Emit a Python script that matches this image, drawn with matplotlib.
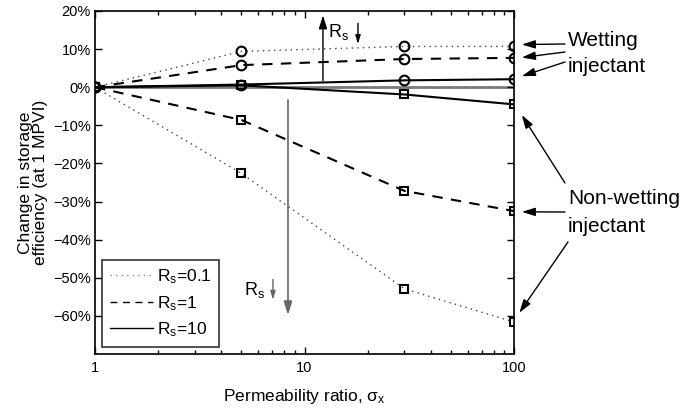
import matplotlib
matplotlib.use("Agg")
import matplotlib.pyplot as plt
from matplotlib.ticker import FixedLocator, FixedFormatter, LogLocator, NullFormatter

plt.rcParams['font.family'] = ['Liberation Sans', 'DejaVu Sans']
plt.rcParams['mathtext.fontset'] = 'custom'
plt.rcParams['mathtext.rm'] = 'Liberation Sans'
plt.rcParams['mathtext.it'] = 'Liberation Sans'

# ---- data ----
perm_ratio = [1, 5, 30, 100]
wet_rs01 = [0, 9.4, 10.7, 10.7]
wet_rs1 = [0, 5.8, 7.4, 7.7]
wet_rs10 = [0, 0.7, 1.8, 2.1]
nonwet_rs01 = [0, -22.6, -52.9, -61.6]
nonwet_rs1 = [0, -8.6, -27.2, -32.5]
nonwet_rs10 = [0, 0.5, -1.9, -4.5]
legend_labels = [r'$\mathregular{R_s}$=0.1', r'$\mathregular{R_s}$=1', r'$\mathregular{R_s}$=10']
ytick_vals = [-60, -50, -40, -30, -20, -10, 0, 10, 20]
ytick_labels = ['\u221260%', '\u221250%', '\u221240%', '\u221230%', '\u221220%', '\u221210%', '0%', '10%', '20%']
xtick_vals = [1, 10, 100]
xtick_labels = ['1', '10', '100']

W, H = 688, 408
fig = plt.figure(figsize=(W / 100, H / 100), dpi=100)
ax = fig.add_axes([95 / W, 1 - 354 / H, (514 - 95) / W, (354 - 11) / H])

def fp(x, y):
    return (x / W, 1 - y / H)

dot = (0, (1, 3))
dash = (0, (5, 4))

# zero reference line
ax.plot([1, 100], [0, 0], color='#7a7a7a', lw=2.0, zorder=1)

styles = [(dot, 1.0, '#444444'), (dash, 1.5, 'black'), ('-', 1.5, 'black')]
wet = [wet_rs01, wet_rs1, wet_rs10]
nonwet = [nonwet_rs01, nonwet_rs1, nonwet_rs10]
for (ls, lw, c), yw, yn in zip(styles, wet, nonwet):
    ax.plot(perm_ratio, yw, linestyle=ls, lw=lw, color=c, marker='o', ms=7,
            mfc='none', mec='black', mew=1.5, zorder=3)
    ax.plot(perm_ratio, yn, linestyle=ls, lw=lw, color=c, marker='s', ms=6,
            mfc='none', mec='black', mew=1.5, zorder=3)

ax.set_xscale('log')
ax.set_xlim(1, 100)
ax.set_ylim(-70, 20)
ax.xaxis.set_major_locator(FixedLocator(xtick_vals))
ax.xaxis.set_major_formatter(FixedFormatter(xtick_labels))
ax.xaxis.set_minor_locator(LogLocator(base=10, subs=range(2, 10)))
ax.xaxis.set_minor_formatter(NullFormatter())
ax.yaxis.set_major_locator(FixedLocator(ytick_vals))
ax.yaxis.set_major_formatter(FixedFormatter(ytick_labels))
ax.tick_params(which='both', direction='in', top=True, right=True, labelsize=10.5)
ax.tick_params(which='major', length=5, width=1)
ax.tick_params(which='minor', length=3, width=1)
ax.tick_params(axis='x', pad=5)
ax.tick_params(axis='y', pad=3)
for s in ax.spines.values():
    s.set_linewidth(1.2)

ax.set_xlabel(r'Permeability ratio, $\mathregular{\sigma_x}$', fontsize=12.5, labelpad=9)
ax.set_ylabel('Change in storage\nefficiency (at 1 MPVI)', fontsize=12.5, labelpad=4,
              linespacing=0.95)

# legend
leg_handles = []
for (ls, lw, c) in styles:
    l, = ax.plot([], [], linestyle=ls, lw=1.0,
                 color='#888888' if ls == dot else 'black')
    leg_handles.append(l)
leg = ax.legend(leg_handles, legend_labels, loc='lower left', fontsize=12.5,
                frameon=True, fancybox=False, edgecolor='black', handlelength=2.5,
                borderaxespad=0.4, labelspacing=0.45, handletextpad=0.2,
                borderpad=0.45, bbox_to_anchor=(0.0, 0.0))
leg.get_frame().set_linewidth(1.2)

# in-plot Rs arrows
ax.annotate('', xy=(12.25, 19.6), xytext=(12.25, 1.0),
            arrowprops=dict(arrowstyle='-|>,head_length=0.8,head_width=0.25', color='black', lw=1))
ax.text(13.0, 14.5, r'$\mathregular{R_s}$', fontsize=13, ha='left', va='center')
ax.annotate('', xy=(18.0, 10.6), xytext=(18.0, 17.5),
            arrowprops=dict(arrowstyle='-|>,head_length=0.5,head_width=0.15', color='black', lw=1))

ax.annotate('', xy=(8.34, -60.5), xytext=(8.34, -2.6),
            arrowprops=dict(arrowstyle='-|>,head_length=0.8,head_width=0.25', color='#666666', lw=1.2))
ax.text(5.15, -53.3, r'$\mathregular{R_s}$', fontsize=13, ha='left', va='center')
ax.annotate('', xy=(7.07, -56.5), xytext=(7.07, -49.7),
            arrowprops=dict(arrowstyle='-|>,head_length=0.5,head_width=0.15', color='#666666', lw=1))

# right side annotations
fig.text(*fp(568, 40), 'Wetting', fontsize=15, ha='left', va='center')
fig.text(*fp(568, 67), 'injectant', fontsize=15, ha='left', va='center')
fig.text(*fp(568, 198), 'Non-wetting', fontsize=15, ha='left', va='center')
fig.text(*fp(568, 227), 'injectant', fontsize=15, ha='left', va='center')

arrow_kw = dict(arrowstyle='-|>,head_length=0.8,head_width=0.25', color='black', lw=1,
                shrinkA=0, shrinkB=0)
wet_arrows = [((109, 11.2), (565, 44)), ((109, 7.8), (565, 52)), ((109, 2.9), (565, 62))]
for xy, tail in wet_arrows:
    ax.annotate('', xy=xy, xycoords='data', xytext=fp(*tail), textcoords='figure fraction',
                arrowprops=arrow_kw, annotation_clip=False)
nonwet_arrows = [((109, -7.3), (565, 183)), ((109, -32.7), (565, 212)), ((106, -59.2), (568, 242))]
for xy, tail in nonwet_arrows:
    ax.annotate('', xy=xy, xycoords='data', xytext=fp(*tail), textcoords='figure fraction',
                arrowprops=arrow_kw, annotation_clip=False)

fig.savefig('out.png', dpi=100)
